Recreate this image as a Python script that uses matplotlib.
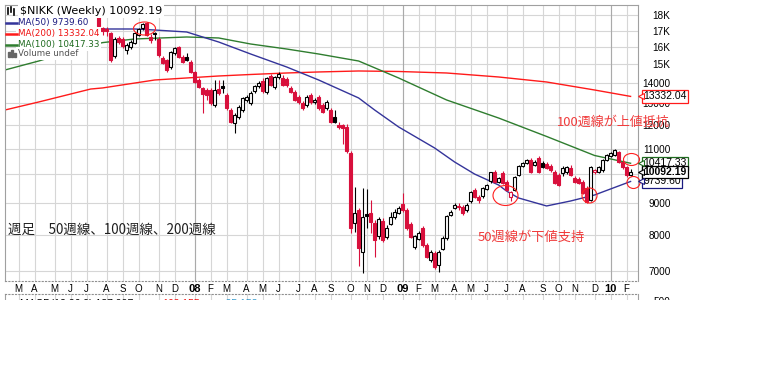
import numpy as np
import pandas as pd
import matplotlib
matplotlib.use("Agg")
import matplotlib.pyplot as plt
import matplotlib.dates as mdates
from matplotlib.path import Path
from matplotlib.transforms import Affine2D
from matplotlib.patches import Rectangle
from matplotlib.lines import Line2D

# weekly candles, first week starting 2007-07-23
first_week = "2007-07-23"
opens = [17870, 17160, 17097, 16847, 15476, 16540, 16478, 15822, 16000, 16236,
         16723, 17162, 17480, 16600, 16847, 16478, 15363, 15249, 14861, 15648,
         16000, 15420, 15420, 15137, 14589, 14164, 13753, 13651, 13651, 12916,
         13702, 13854, 13402, 12680, 12086, 12357, 12680, 13157, 13012, 13600,
         13854, 14112, 13551, 14375, 13803, 14322, 14270, 14217, 13753, 13551,
         13304, 13012, 12916, 13402, 13060, 13304, 12916, 12774, 12680, 12357,
         11997, 11997, 11909, 10820, 8357, 8767, 7509, 8650, 8670, 8357,
         7965, 8419, 7935, 8326, 8543, 8670, 8963, 8767, 8326, 7648,
         7877, 8204, 7705, 7290, 7481, 7157, 7592, 7906, 8606, 8832,
         8898, 8865, 8767, 9063, 9438, 9198, 9232, 9473, 9757, 10087,
         9721, 10050, 9721, 9198, 9438, 9975, 10312, 10427, 10543, 10350,
         10622, 10427, 10389, 10312, 10087, 9975, 10050, 10087, 10236, 9866,
         9830, 9721, 9508, 9096, 10087, 10087, 10161, 10543, 10700, 10740,
         10860, 10466, 10274, 9975]
highs = [17940, 17225, 17225, 16909, 16600, 16660, 16600, 16236, 16417, 16909,
         17162, 17480, 17550, 16785, 16909, 16600, 15476, 15306, 15760, 16000,
         16058, 15533, 15648, 15249, 14643, 14270, 13803, 13753, 13753, 14164,
         14164, 14164, 13501, 12774, 12541, 12916, 13304, 13402, 13600, 13905,
         14112, 14270, 14322, 14481, 14375, 14589, 14428, 14322, 13854, 13651,
         13402, 13109, 13402, 13501, 13255, 13402, 13012, 13157, 12774, 12680,
         12131, 12040, 12040, 10900, 9544, 8830, 9508, 9473, 9096, 8450,
         8543, 8500, 8300, 8703, 8800, 8900, 9335, 8832, 8400, 8000,
         8100, 8260, 7750, 7560, 7530, 7560, 7950, 8606, 8760, 8990,
         8990, 8930, 8990, 9400, 9500, 9260, 9544, 9650, 10100, 10160,
         9900, 10130, 9800, 9400, 9950, 10350, 10450, 10580, 10620, 10540,
         10700, 10500, 10480, 10380, 10161, 10050, 10300, 10312, 10350, 9950,
         9900, 9790, 9580, 10300, 10200, 10330, 10580, 10780, 10860, 11000,
         10900, 10520, 10330, 10180]
lows = [17225, 16723, 16660, 15137, 15363, 16176, 15940, 15590, 15880, 16176,
        16660, 17034, 16660, 16236, 16417, 15420, 15025, 14590, 14750, 15533,
        15363, 15081, 15190, 14535, 14008, 13754, 12541, 13157, 12916, 12821,
        13402, 13501, 12680, 12086, 11648, 12266, 12587, 13060, 12916, 13501,
        13751, 13501, 13450, 13854, 13702, 14217, 13854, 13803, 13501, 13109,
        12965, 12680, 12821, 12965, 12965, 12680, 12541, 12680, 12086, 12086,
        11822, 11190, 10820, 8053, 8083, 7130, 6949, 8204, 8053, 7372,
        7880, 7790, 7880, 8290, 8480, 8640, 8700, 8150, 7900, 7600,
        7850, 7650, 7340, 7240, 7060, 6974, 7550, 7850, 8560, 8800,
        8780, 8600, 8700, 9000, 9150, 9000, 9160, 9440, 9700, 9680,
        9680, 9650, 9400, 9050, 9400, 9930, 10280, 10390, 10050, 10300,
        10050, 10250, 10180, 10100, 9650, 9580, 9950, 10000, 9950, 9680,
        9650, 9300, 8990, 9060, 10000, 10050, 10100, 10500, 10660, 10700,
        10420, 10200, 9900, 9950]
closes = [17288, 16970, 16940, 15249, 16478, 16296, 16058, 16117, 16296, 16847,
          17097, 17415, 16723, 16417, 16785, 15533, 15081, 14697, 15706, 15940,
          15420, 15137, 15249, 14589, 14060, 13803, 13450, 13402, 13012, 13651,
          13501, 13753, 12774, 12131, 12448, 12821, 13255, 13304, 13501, 13854,
          14008, 13600, 14270, 13905, 14322, 14481, 13905, 13880, 13551, 13157,
          13060, 12774, 13304, 13060, 13157, 12774, 12587, 13060, 12131, 12140,
          11909, 11866, 10880, 8204, 8670, 7620, 8543, 8560, 8388, 7848,
          8481, 7848, 8204, 8543, 8703, 8832, 8767, 8204, 7935, 7965,
          8053, 7705, 7372, 7509, 7104, 7509, 7906, 8575, 8703, 8930,
          8865, 8670, 8930, 9369, 9198, 9096, 9508, 9614, 10087, 9721,
          9866, 9685, 9438, 9369, 9902, 10312, 10427, 10543, 10087, 10466,
          10087, 10274, 10236, 10161, 9685, 9614, 10236, 10274, 9975, 9721,
          9685, 9335, 9030, 10274, 10161, 10274, 10543, 10740, 10820, 10940,
          10466, 10274, 9960, 10092.19]

# moving averages
ma50_dates = ["2007-07-09", "2007-07-30", "2007-09-24", "2007-10-29", "2007-12-24",
              "2008-02-18", "2008-04-14", "2008-06-16", "2008-08-11", "2008-10-20",
              "2008-11-17", "2008-12-29", "2009-03-02", "2009-04-06", "2009-05-11",
              "2009-06-22", "2009-07-06", "2009-07-27", "2009-09-14", "2009-10-26",
              "2009-12-07", "2009-12-21", "2010-02-08"]
ma50_vals = [17097, 17097, 17097, 17034, 16909, 16296, 15590, 14861, 14164, 13255,
             12680, 11910, 11021, 10466, 10010, 9614, 9400, 9164, 8898, 9063,
             9266, 9370, 9739.60]
ma100_dates = ["2007-02-09", "2007-04-09", "2007-07-09", "2007-07-30", "2007-09-24",
               "2007-12-24", "2008-02-18", "2008-04-14", "2008-06-16", "2008-08-11",
               "2008-10-20", "2008-12-29", "2009-03-23", "2009-06-22", "2009-09-14",
               "2009-12-07", "2010-02-08"]
ma100_vals = [14697, 15192, 16100, 16260, 16478, 16600, 16540, 16176, 15880, 15590,
              15192, 14270, 13157, 12310, 11500, 10720, 10417.33]
ma200_dates = ["2007-02-09", "2007-04-09", "2007-07-09", "2007-07-30", "2007-10-29",
               "2007-12-24", "2008-02-18", "2008-04-14", "2008-06-16", "2008-08-11",
               "2008-10-20", "2008-12-29", "2009-03-23", "2009-06-22", "2009-09-14",
               "2009-12-07", "2010-02-08"]
ma200_vals = [12680, 13060, 13700, 13755, 14164, 14270, 14375, 14455, 14535, 14590,
              14643, 14616, 14535, 14322, 14060, 13651, 13332.04]

ytick_vals = [7000, 8000, 9000, 10000, 11000, 12000, 13000, 14000, 15000, 16000, 17000, 18000]
ytick_text = ["7000", "8000", "9000", "10000", "11000", "12000", "13000", "14000",
              "15K", "16K", "17K", "18K"]

RED = "#d8103c"
C50, C100, C200 = "#34349a", "#2f7d2f", "#ff1a1a"
GRID = "#d6d6d6"
JP = ["Noto Sans CJK JP", "DejaVu Sans"]

W, H = 780, 383
def fx(px):
    return px / W
def fy(py):
    return 1 - py / H

fig = plt.figure(figsize=(7.8, 3.83), dpi=100)
fig.patch.set_facecolor("white")
ax = fig.add_axes([fx(5), fy(281), fx(638) - fx(5), fy(5) - fy(281)])

dates = pd.date_range(first_week, periods=len(closes), freq="W-MON")
xd = mdates.date2num(dates)
o, h, l, c = (np.array(v, dtype=float) for v in (opens, highs, lows, closes))
prev = np.r_[o[0], c[:-1]]
col = np.where(c < prev, RED, "black")
face = np.where(c >= o, "white", col)

ax.plot(pd.to_datetime(ma200_dates), ma200_vals, color=C200, lw=1.0, zorder=2)
ax.plot(pd.to_datetime(ma100_dates), ma100_vals, color=C100, lw=1.0, zorder=2)
ax.plot(pd.to_datetime(ma50_dates), ma50_vals, color=C50, lw=1.0, zorder=2)

ax.vlines(xd, l, h, colors=col, lw=0.8, zorder=3)
ax.bar(xd, np.abs(c - o), width=4.4, bottom=np.minimum(o, c), color=face,
       edgecolor=col, linewidth=0.8, zorder=4)

ax.set_yscale("log")
ax.set_ylim(6746, 18680)
ax.set_xlim(pd.Timestamp("2007-02-09"), pd.Timestamp("2010-02-21"))
ax.yaxis.set_minor_locator(matplotlib.ticker.NullLocator())
ax.set_yticks(ytick_vals)
ax.set_yticklabels(ytick_text)
ax.yaxis.tick_right()
ax.tick_params(axis="y", length=0, pad=23.5, labelsize=7.2)
for t in ax.get_yticklabels():
    t.set_ha("right")
    t.set_family("Liberation Sans")

# month ticks at the first week of each month
months = pd.date_range("2007-02-01", "2010-02-01", freq="MS")
mticks = [m + pd.Timedelta(days=(7 - m.weekday()) % 7) for m in months]
mticks = [m for m in mticks if m >= pd.Timestamp("2007-02-10")]
ax.set_xticks(mticks)
ax.set_xticklabels([m.strftime("%y") if m.month == 1 else m.strftime("%b")[0] for m in mticks])
ax.tick_params(axis="x", length=0, pad=2.5, labelsize=7)
for t, m in zip(ax.get_xticklabels(), mticks):
    t.set_family("Liberation Sans")
    if m.month == 1:
        t.set_fontweight("bold")
        t.set_fontsize(8)

ax.grid(True, color=GRID, lw=0.8, zorder=0)
for m in mticks:
    if m.month == 1:
        ax.axvline(m, color="#aaaaaa", lw=0.8, zorder=1)
ax.set_axisbelow(True)
for s in ("left", "top", "right"):
    ax.spines[s].set_color("#a0a0a0")
    ax.spines[s].set_linewidth(0.8)
ax.spines["bottom"].set_color("#909090")
ax.spines["bottom"].set_linestyle((0, (1, 2)))

# red circles drawn on the chart
def ellipse_marker(w, h):
    return Path.unit_circle().transformed(Affine2D().scale(w, h))

circles = [("2007-10-10", 17130, 22, 13), ("2009-07-04", 9266, 25, 20),
           ("2009-11-28", 9250, 15, 15), ("2010-02-09", 10580, 16, 12),
           ("2010-02-12", 9720, 13, 12)]
for d, v, w, hh in circles:
    ax.plot([pd.Timestamp(d)], [v], marker=ellipse_marker(w, hh), ms=max(w, hh) * 0.72,
            mfc="none", mec="#ff2020", mew=0.8, zorder=6, clip_on=False)

ax.text(pd.Timestamp("2009-10-02"), 12131, "100週線が上値抵抗", color="#f03a3a",
        fontsize=9.4, family=JP, va="center", ha="left", zorder=7)
ax.text(pd.Timestamp("2009-05-17"), 7935, "50週線が下値支持", color="#f03a3a",
        fontsize=9.5, family=JP, va="center", ha="left", zorder=7)
ax.text(0.005, 0.185, "週足　50週線、100週線、200週線", transform=ax.transAxes,
        fontsize=9.7, family=JP, va="center", ha="left", color="#202020", zorder=7)

# value tags on the right axis
ytr = ax.get_yaxis_transform()
tags = [(ma200_vals[-1], C200, "normal"), (ma100_vals[-1], "#1f6b1f", "normal"),
        (ma50_vals[-1], "#1a1a80", "normal"), (closes[-1], "black", "bold")]
for val, tc, wt in tags:
    ax.annotate(f"{val:.2f}", xy=(1.0, val), xycoords=ytr, xytext=(3.6, 0),
                textcoords="offset points", ha="left", va="center", fontsize=7.5,
                fontweight=wt, family="Liberation Sans", color="black",
                bbox=dict(boxstyle="square,pad=0.12", fc="white", ec=tc, lw=0.9),
                annotation_clip=False, zorder=8)
    ax.plot([1.004], [val], marker="<", ms=4, mfc="white", mec=tc, mew=0.8,
            transform=ytr, clip_on=False, zorder=9)

# legend block
lg = dict(va="center", ha="left", fontsize=6.3, family="DejaVu Sans", zorder=10,
          bbox=dict(boxstyle="square,pad=0.18", fc="white", ec="none"))
fig.text(fx(20), fy(11), f"\\$NIKK (Weekly) {closes[-1]:.2f}", color="black",
         **{**lg, "fontsize": 8})
rows = [(f"MA(50) {ma50_vals[-1]:.2f}", C50, "#1a1a80", 23),
        (f"MA(200) {ma200_vals[-1]:.2f}", C200, "#ee1111", 33.5),
        (f"MA(100) {ma100_vals[-1]:.2f}", C100, "#1f6b1f", 44.5)]
for txt, lc, tc, yy in rows:
    fig.text(fx(18), fy(yy), txt, color=tc, **lg)
    fig.add_artist(Line2D([fx(6), fx(17)], [fy(yy), fy(yy)], color=lc, lw=1.8, zorder=11))
fig.text(fx(18), fy(54), "Volume undef", color="#555555", **lg)
for bx, bh in ((8, 5), (11, 7), (14, 4)):
    fig.add_artist(Rectangle((fx(bx), fy(57)), fx(2), bh / H, color="#666666", zorder=11))
for bx, y0, y1 in ((8, 8, 14), (11, 7, 12), (14, 9, 15)):
    fig.add_artist(Line2D([fx(bx), fx(bx)], [fy(y1), fy(y0)], color="black", lw=1.2, zorder=11))

# MACD panel (cut off at the bottom of the screenshot)
ax2 = fig.add_axes([fx(5), fy(370), fx(638) - fx(5), fy(294) - fy(370)], sharex=ax)
ax2.set_ylim(-1500, 700)
ax2.set_yticks([500])
ax2.yaxis.tick_right()
ax2.tick_params(axis="y", length=0, pad=23.5, labelsize=7.2)
for t in ax2.get_yticklabels():
    t.set_ha("right")
    t.set_family("Liberation Sans")
ax2.tick_params(axis="x", length=0, labelbottom=False)
ax2.grid(True, axis="x", color=GRID, lw=0.8)
for s in ("left", "right", "bottom"):
    ax2.spines[s].set_color("#a0a0a0")
ax2.spines["top"].set_color("#909090")
ax2.spines["top"].set_linestyle((0, (1, 2)))
mt = dict(transform=ax2.transAxes, va="top", fontsize=7.5, family="Liberation Sans")
ax2.text(0.024, 0.93, "MACD(12,26,9) 137.997", color="black", **mt)
ax2.text(0.248, 0.93, "163.155", color="#ee1111", **mt)
ax2.text(0.343, 0.93, "-25.158", color="#3399cc", **mt)

fig.add_artist(Rectangle((0, 0), 1, fy(300), transform=fig.transFigure,
                         fc="white", ec="none", zorder=30))

fig.savefig("out.png", dpi=100, facecolor="white")
